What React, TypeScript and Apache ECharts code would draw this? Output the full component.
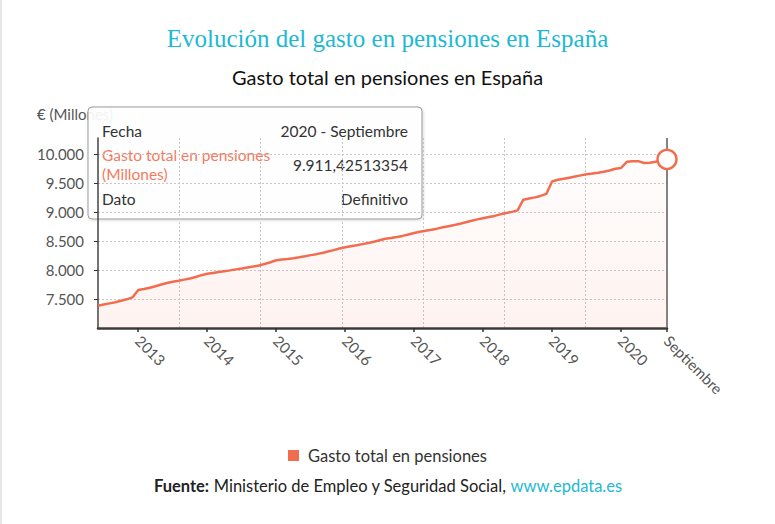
import React, { useEffect, useRef } from "react";
import * as echarts from "echarts";

const MONTHS = ["Enero", "Febrero", "Marzo", "Abril", "Mayo", "Junio", "Julio", "Agosto", "Septiembre", "Octubre", "Noviembre", "Diciembre"];
const START_YEAR = 2012;
const START_MONTH = 5; // Junio

// Gasto total en pensiones (millones de €), junio 2012 – septiembre 2020
const pensionSpending = [
  7384, 7405, 7425, 7445, 7470, 7495, 7528,
  7655, 7672, 7695, 7720, 7750, 7778, 7800, 7815, 7835, 7855, 7880, 7912,
  7935, 7950, 7965, 7980, 7995, 8012, 8028, 8045, 8060, 8080, 8105, 8135,
  8170, 8182, 8192, 8205, 8220, 8238, 8258, 8275, 8295, 8320, 8345, 8372,
  8395, 8412, 8428, 8448, 8468, 8490, 8515, 8540, 8555, 8572, 8590, 8615,
  8640, 8660, 8678, 8695, 8715, 8738, 8758, 8778, 8800, 8825, 8850, 8875,
  8895, 8915, 8935, 8962, 8985, 9005, 9030, 9215, 9235, 9255, 9280, 9315,
  9530, 9558, 9575, 9595, 9615, 9635, 9655, 9668, 9682, 9697, 9720, 9748,
  9762, 9868, 9878, 9880, 9848, 9852, 9870, 9890, 9911.42513354,
];
const dataStatus = "Definitivo";

const SERIES_NAME = "Gasto total en pensiones";
const TITLE = "Evolución del gasto en pensiones en España";
const SUBTITLE = "Gasto total en pensiones en España";
const Y_UNIT = "€ (Millones)";
const Y_MIN = 7000;
const Y_MAX = 10280;
const Y_STEP = 500;
const X_GRID_DIVISIONS = 7;

const categories = pensionSpending.map((_, i) => {
  const m = START_MONTH + i;
  return `${START_YEAR + Math.floor(m / 12)} - ${MONTHS[m % 12]}`;
});

const SANS = "Lato, 'Noto Sans', sans-serif";
const CORAL = "#F26D50";
const CYAN = "#1DB9D4";

function esThousands(n: number): string {
  const [intPart, frac] = String(n).split(".");
  const withDots = intPart.replace(/\B(?=(\d{3})+(?!\d))/g, ".");
  return frac ? `${withDots},${frac}` : withDots;
}

const lastIdx = pensionSpending.length - 1;
const isMarkedIdx = (index: number) => {
  const month = categories[index].split(" - ")[1];
  return month === "Enero" || index === lastIdx;
};

export default function App() {
  const ref = useRef<HTMLDivElement>(null);
  useEffect(() => {
    if (!ref.current) return;
    const chart = echarts.init(ref.current, null, { renderer: "svg" });
    const lastCat = categories[lastIdx];
    const lastVal = pensionSpending[lastIdx];

    const option: any = {
      animation: false,
      backgroundColor: "#fff",
      title: [
        {
          text: TITLE,
          left: "center",
          top: 21,
          textStyle: { fontFamily: "'Liberation Serif', serif", fontSize: 25, fontWeight: "normal", color: CYAN },
        },
        {
          text: SUBTITLE,
          left: "center",
          top: 62,
          textStyle: { fontFamily: SANS, fontSize: 20, fontWeight: "normal", color: "#111" },
        },
      ],
      legend: {
        data: [SERIES_NAME],
        left: "center",
        top: 442,
        icon: "rect",
        itemWidth: 11,
        itemHeight: 11,
        textStyle: { fontFamily: SANS, fontSize: 16.5, color: "#333", padding: [0, 0, 0, 4] },
      },
      grid: { left: 98, right: 108, top: 138, bottom: 196, containLabel: false },
      xAxis: [
        {
          type: "category",
          data: categories,
          boundaryGap: false,
          axisLine: { lineStyle: { color: "#3a3a3a", width: 2.5 } },
          axisTick: { interval: (i: number) => isMarkedIdx(i), length: 4, lineStyle: { color: "#333", width: 1.5 } },
          axisLabel: {
            interval: (i: number) => isMarkedIdx(i),
            rotate: -45,
            margin: 10,
            color: "#555",
            fontSize: 15,
            fontFamily: SANS,
            formatter: (value: string, index: number) => {
              const [year, month] = value.split(" - ");
              return index === lastIdx ? month : year;
            },
          },
          splitLine: { show: false },
        },
        {
          type: "value",
          min: 0,
          max: X_GRID_DIVISIONS,
          interval: 1,
          axisLine: { show: false },
          axisTick: { show: false },
          axisLabel: { show: false },
          splitLine: { show: true, showMinLine: false, showMaxLine: false, lineStyle: { color: "#c6c6c6", type: [2, 2] } },
        },
      ],
      yAxis: {
        type: "value",
        min: Y_MIN,
        max: Y_MAX,
        interval: Y_STEP,
        axisLine: { show: true, lineStyle: { color: "#444", width: 1.5 } },
        axisTick: { show: true, length: 4, lineStyle: { color: "#333" } },
        axisLabel: {
          color: "#555",
          fontSize: 15,
          fontFamily: SANS,
          margin: 14,
          showMinLabel: false,
          showMaxLabel: false,
          formatter: (v: number) => esThousands(v),
        },
        splitLine: { show: true, showMinLine: false, showMaxLine: false, lineStyle: { color: "#c6c6c6", type: [2, 2] } },
      },
      series: [
        {
          name: SERIES_NAME,
          type: "line",
          xAxisIndex: 0,
          data: pensionSpending.map((v, i) =>
            i === lastIdx
              ? {
                  value: v,
                  symbol: "circle",
                  symbolSize: 19,
                  itemStyle: { color: "#fff", borderColor: CORAL, borderWidth: 2.5 },
                }
              : v
          ),
          symbol: "none",
          showSymbol: true,
          showAllSymbol: true,
          itemStyle: { color: CORAL },
          lineStyle: { color: CORAL, width: 2.5 },
          areaStyle: {
            color: new echarts.graphic.LinearGradient(0, 0, 0, 1, [
              { offset: 0, color: "rgba(242,109,80,0.02)" },
              { offset: 1, color: "rgba(242,109,80,0.12)" },
            ]),
          },
          markLine: {
            silent: true,
            symbol: ["none", "none"],
            label: { show: false },
            lineStyle: { color: "#5a5a5a", width: 1.5, type: "solid" },
            data: [{ xAxis: lastCat }],
            z: 1,
          },
          z: 3,
        },
      ],
      graphic: [
        { type: "line", shape: { x1: 1, y1: 0, x2: 1, y2: 524 }, style: { stroke: "#ccc", lineWidth: 1 } },
        {
          type: "text",
          x: 37,
          y: 114,
          style: { text: Y_UNIT, fontFamily: SANS, fontSize: 15, fill: "#555", align: "left", verticalAlign: "middle" },
        },
        {
          type: "group",
          z: 100,
          children: [
            {
              type: "rect",
              shape: { x: 88, y: 107, width: 334, height: 112, r: 4 },
              style: {
                fill: "rgba(255,255,255,0.92)",
                stroke: "#9a9a9a",
                lineWidth: 1,
                shadowBlur: 3,
                shadowColor: "rgba(0,0,0,0.15)",
                shadowOffsetX: 1,
                shadowOffsetY: 1,
              },
            },
            { type: "text", x: 102, y: 131, style: { text: "Fecha", fontFamily: SANS, fontSize: 15.5, fill: "#333", align: "left", verticalAlign: "middle" } },
            { type: "text", x: 408, y: 131, style: { text: lastCat, fontFamily: SANS, fontSize: 15.5, fill: "#333", align: "right", verticalAlign: "middle" } },
            { type: "text", x: 102, y: 155, style: { text: SERIES_NAME, fontFamily: SANS, fontSize: 15.5, fill: "#F47B60", align: "left", verticalAlign: "middle" } },
            { type: "text", x: 102, y: 174, style: { text: "(Millones)", fontFamily: SANS, fontSize: 15.5, fill: "#F47B60", align: "left", verticalAlign: "middle" } },
            { type: "text", x: 408, y: 165, style: { text: esThousands(lastVal), fontFamily: SANS, fontSize: 15.5, fill: "#333", align: "right", verticalAlign: "middle" } },
            { type: "text", x: 102, y: 199, style: { text: "Dato", fontFamily: SANS, fontSize: 15.5, fill: "#333", align: "left", verticalAlign: "middle" } },
            { type: "text", x: 408, y: 199, style: { text: dataStatus, fontFamily: SANS, fontSize: 15.5, fill: "#333", align: "right", verticalAlign: "middle" } },
          ],
        },
        {
          type: "text",
          x: 388,
          y: 486,
          style: {
            text: "{b|Fuente:} Ministerio de Empleo y Seguridad Social, {l|www.epdata.es}",
            fontFamily: SANS,
            fontSize: 16.5,
            fill: "#222",
            align: "center",
            verticalAlign: "middle",
            rich: {
              b: { fontFamily: SANS, fontSize: 16.5, fontWeight: "bold", fill: "#222" },
              l: { fontFamily: SANS, fontSize: 16.5, fill: CYAN },
            },
          },
        },
      ],
    };
    chart.setOption(option);
    return () => chart.dispose();
  }, []);
  return <div ref={ref} style={{ position: "absolute", left: 0, top: 0, width: 775, height: 524 }} />;
}
